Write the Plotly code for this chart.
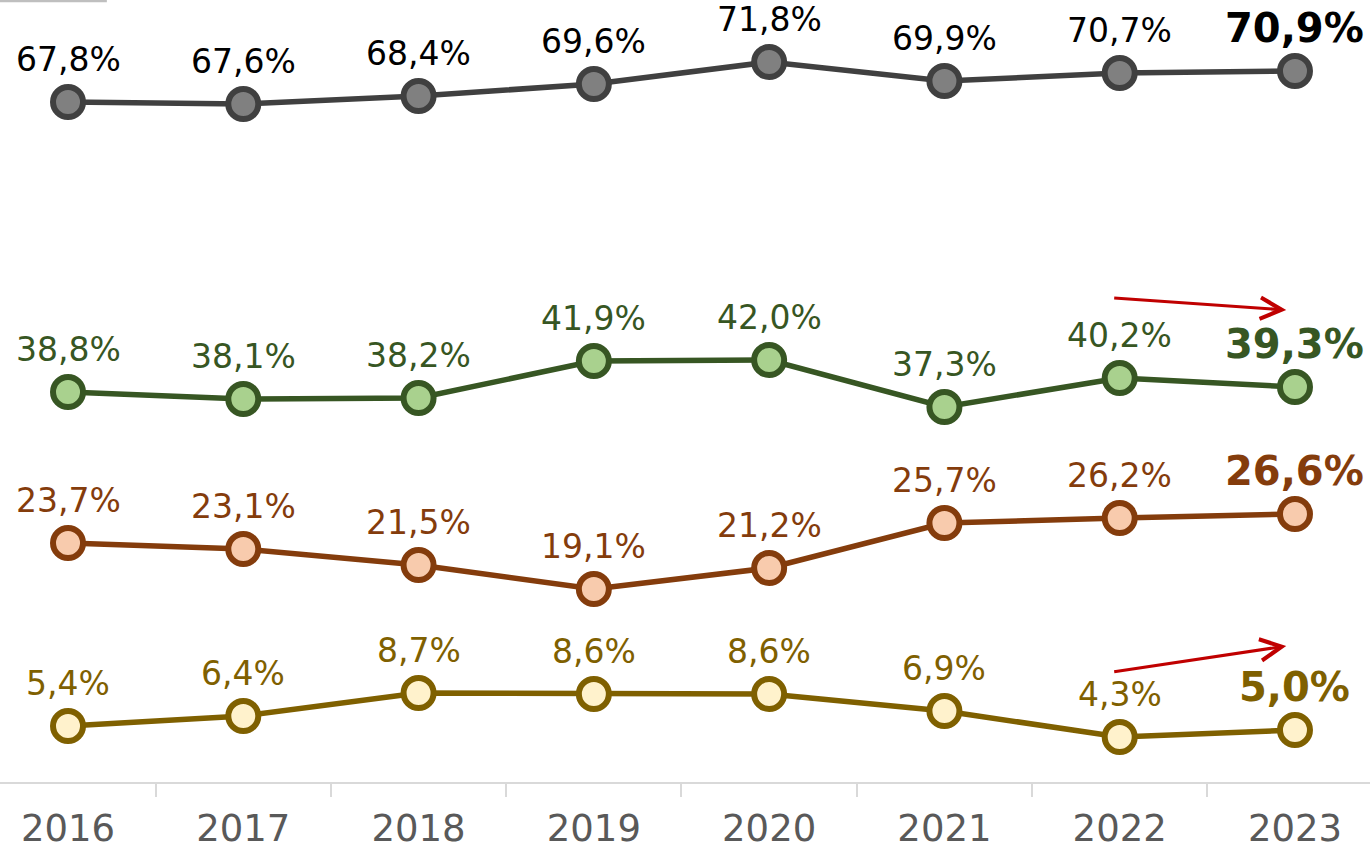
import plotly.graph_objects as go

years = [2016, 2017, 2018, 2019, 2020, 2021, 2022, 2023]
total = [67.8, 67.6, 68.4, 69.6, 71.8, 69.9, 70.7, 70.9]
green = [38.8, 38.1, 38.2, 41.9, 42.0, 37.3, 40.2, 39.3]
orange = [23.7, 23.1, 21.5, 19.1, 21.2, 25.7, 26.2, 26.6]
yellow = [5.4, 6.4, 8.7, 8.6, 8.6, 6.9, 4.3, 5.0]
tick_labels = [str(y) for y in years]

series = [
    (total, "#404040", "#808080", "#000000"),
    (green, "#375623", "#a9d18e", "#375623"),
    (orange, "#843c0c", "#f8cbad", "#843c0c"),
    (yellow, "#7f6000", "#fff2cc", "#7f6000"),
]

FONT = "DejaVu Sans"

def fmt(v):
    return f"{v:.1f}".replace(".", ",") + "%"

fig = go.Figure()
annotations = []
for vals, lc, fc, tc in series:
    fig.add_trace(go.Scatter(
        x=years, y=vals, mode="lines+markers",
        line=dict(color=lc, width=5.5),
        marker=dict(size=30, color=fc, line=dict(color=lc, width=6)),
        cliponaxis=False, showlegend=False, hoverinfo="skip",
    ))
    for i, (x, v) in enumerate(zip(years, vals)):
        last = i == len(years) - 1
        annotations.append(dict(
            x=x, y=v, xref="x", yref="y", text=("<b>%s</b>" % fmt(v)) if last else fmt(v),
            showarrow=False, yanchor="middle", xanchor="center",
            yshift=43,
            font=dict(family=FONT, size=40 if last else 33, color=tc),
        ))

# red trend arrows
annotations.append(dict(x=2022.95, y=47.0, ax=2021.96, ay=48.2, xref="x", yref="y",
                        axref="x", ayref="y", showarrow=True, arrowhead=5, arrowsize=1.4,
                        arrowwidth=3, arrowcolor="#c00000", text=""))
annotations.append(dict(x=2022.95, y=13.4, ax=2021.96, ay=10.8, xref="x", yref="y",
                        axref="x", ayref="y", showarrow=True, arrowhead=5, arrowsize=1.4,
                        arrowwidth=3, arrowcolor="#c00000", text=""))

fig.update_layout(
    width=1370, height=849,
    margin=dict(l=0, r=0, t=0, b=67),
    plot_bgcolor="white", paper_bgcolor="white",
    annotations=annotations,
    shapes=[dict(type="line", xref="paper", yref="paper", x0=0, x1=0.078, y0=0.999, y1=0.999,
                 line=dict(color="#bfbfbf", width=3))],
    font=dict(family=FONT),
)
fig.update_xaxes(
    range=[2015.612, 2023.428], tickvals=years, ticktext=tick_labels,
    ticks="", showgrid=False, zeroline=False, automargin=False,
    showline=True, linecolor="#d9d9d9", linewidth=2,
    ticklabelstandoff=13,
    tickfont=dict(family=FONT, size=37, color="#595959"),
    minor=dict(tick0=2015.5, dtick=1, ticks="outside", ticklen=13, tickcolor="#d9d9d9", tickwidth=2, showgrid=False),
)
fig.update_yaxes(range=[-0.2, 78], visible=False, showgrid=False, zeroline=False, automargin=False)

fig.write_html("out.html", config={"displayModeBar": False},
               post_script="document.body.style.margin='0';document.body.style.overflow='hidden';")
